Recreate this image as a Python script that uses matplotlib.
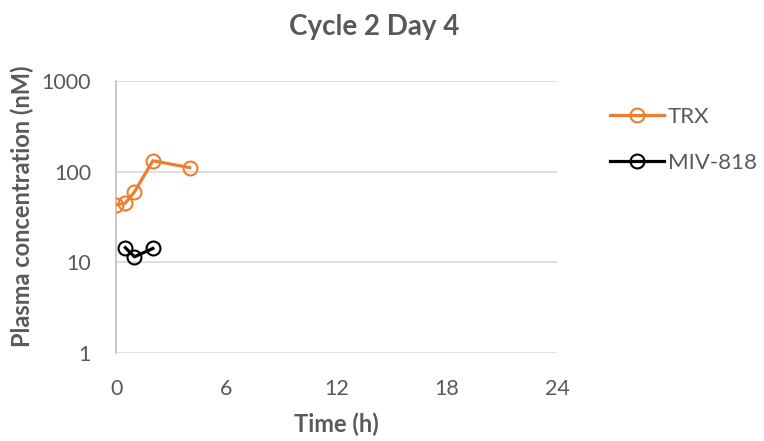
import matplotlib
matplotlib.use("Agg")
import matplotlib.pyplot as plt

trx_time = [0, 0.5, 1, 2, 4]
trx_conc = [43, 45, 60, 132, 111]
miv_time = [0.5, 1, 2]
miv_conc = [14.5, 11.5, 14.2]
x_ticks = [0, 6, 12, 18, 24]
y_ticks = [1, 10, 100, 1000]
y_tick_labels = ["1", "10", "100", "1000"]

gray = "#595959"
plt.rcParams['font.family'] = ['Lato', 'DejaVu Sans']

fig = plt.figure(figsize=(7.64, 4.41), dpi=100)
ax = fig.add_axes([0.152, 0.200, 0.577, 0.616])

ax.plot(trx_time, trx_conc, color="#ED7D31", lw=2.3, marker="o", ms=10,
        mfc="none", mew=1.5, label="TRX", zorder=3)
ax.plot(miv_time, miv_conc, color="black", lw=2.3, marker="o", ms=10,
        mfc="none", mew=1.5, label="MIV-818", zorder=3)

ax.set_yscale("log")
ax.set_ylim(1, 1000)
ax.set_xlim(0, 24)
ax.set_xticks(x_ticks)
ax.set_yticks(y_ticks)
ax.set_yticklabels(y_tick_labels)
ax.minorticks_off()
ax.yaxis.grid(True, color="#D9D9D9", lw=1.2)
ax.set_axisbelow(True)
for s in ["top", "right", "bottom"]:
    ax.spines[s].set_visible(False)
ax.spines["left"].set_color("#BFBFBF")
ax.spines["left"].set_linewidth(1.2)
ax.tick_params(axis="y", length=0, labelsize=15.5, colors=gray, pad=18)
ax.tick_params(axis="x", length=0, labelsize=15.5, colors=gray, pad=19)

fig.text(0.49, 1 - 27 / 441, "Cycle 2 Day 4", fontsize=20, fontweight="bold",
         color=gray, ha="center", va="center")
ax.set_xlabel("Time (h)", fontsize=17, fontweight="bold", color=gray, va="center")
ax.xaxis.set_label_coords(0.499, -0.265)
ax.set_ylabel("Plasma concentration (nM)", fontsize=17, fontweight="bold",
              color=gray, va="center")
ax.yaxis.set_label_coords(-0.213, 0.54)

leg = ax.legend(loc="upper left", bbox_to_anchor=(1.12, 0.905), frameon=False,
                fontsize=16, labelcolor=gray, handlelength=2.45, labelspacing=1.15,
                handletextpad=0.15, borderaxespad=0, borderpad=0)

fig.savefig("out.png", dpi=100)
